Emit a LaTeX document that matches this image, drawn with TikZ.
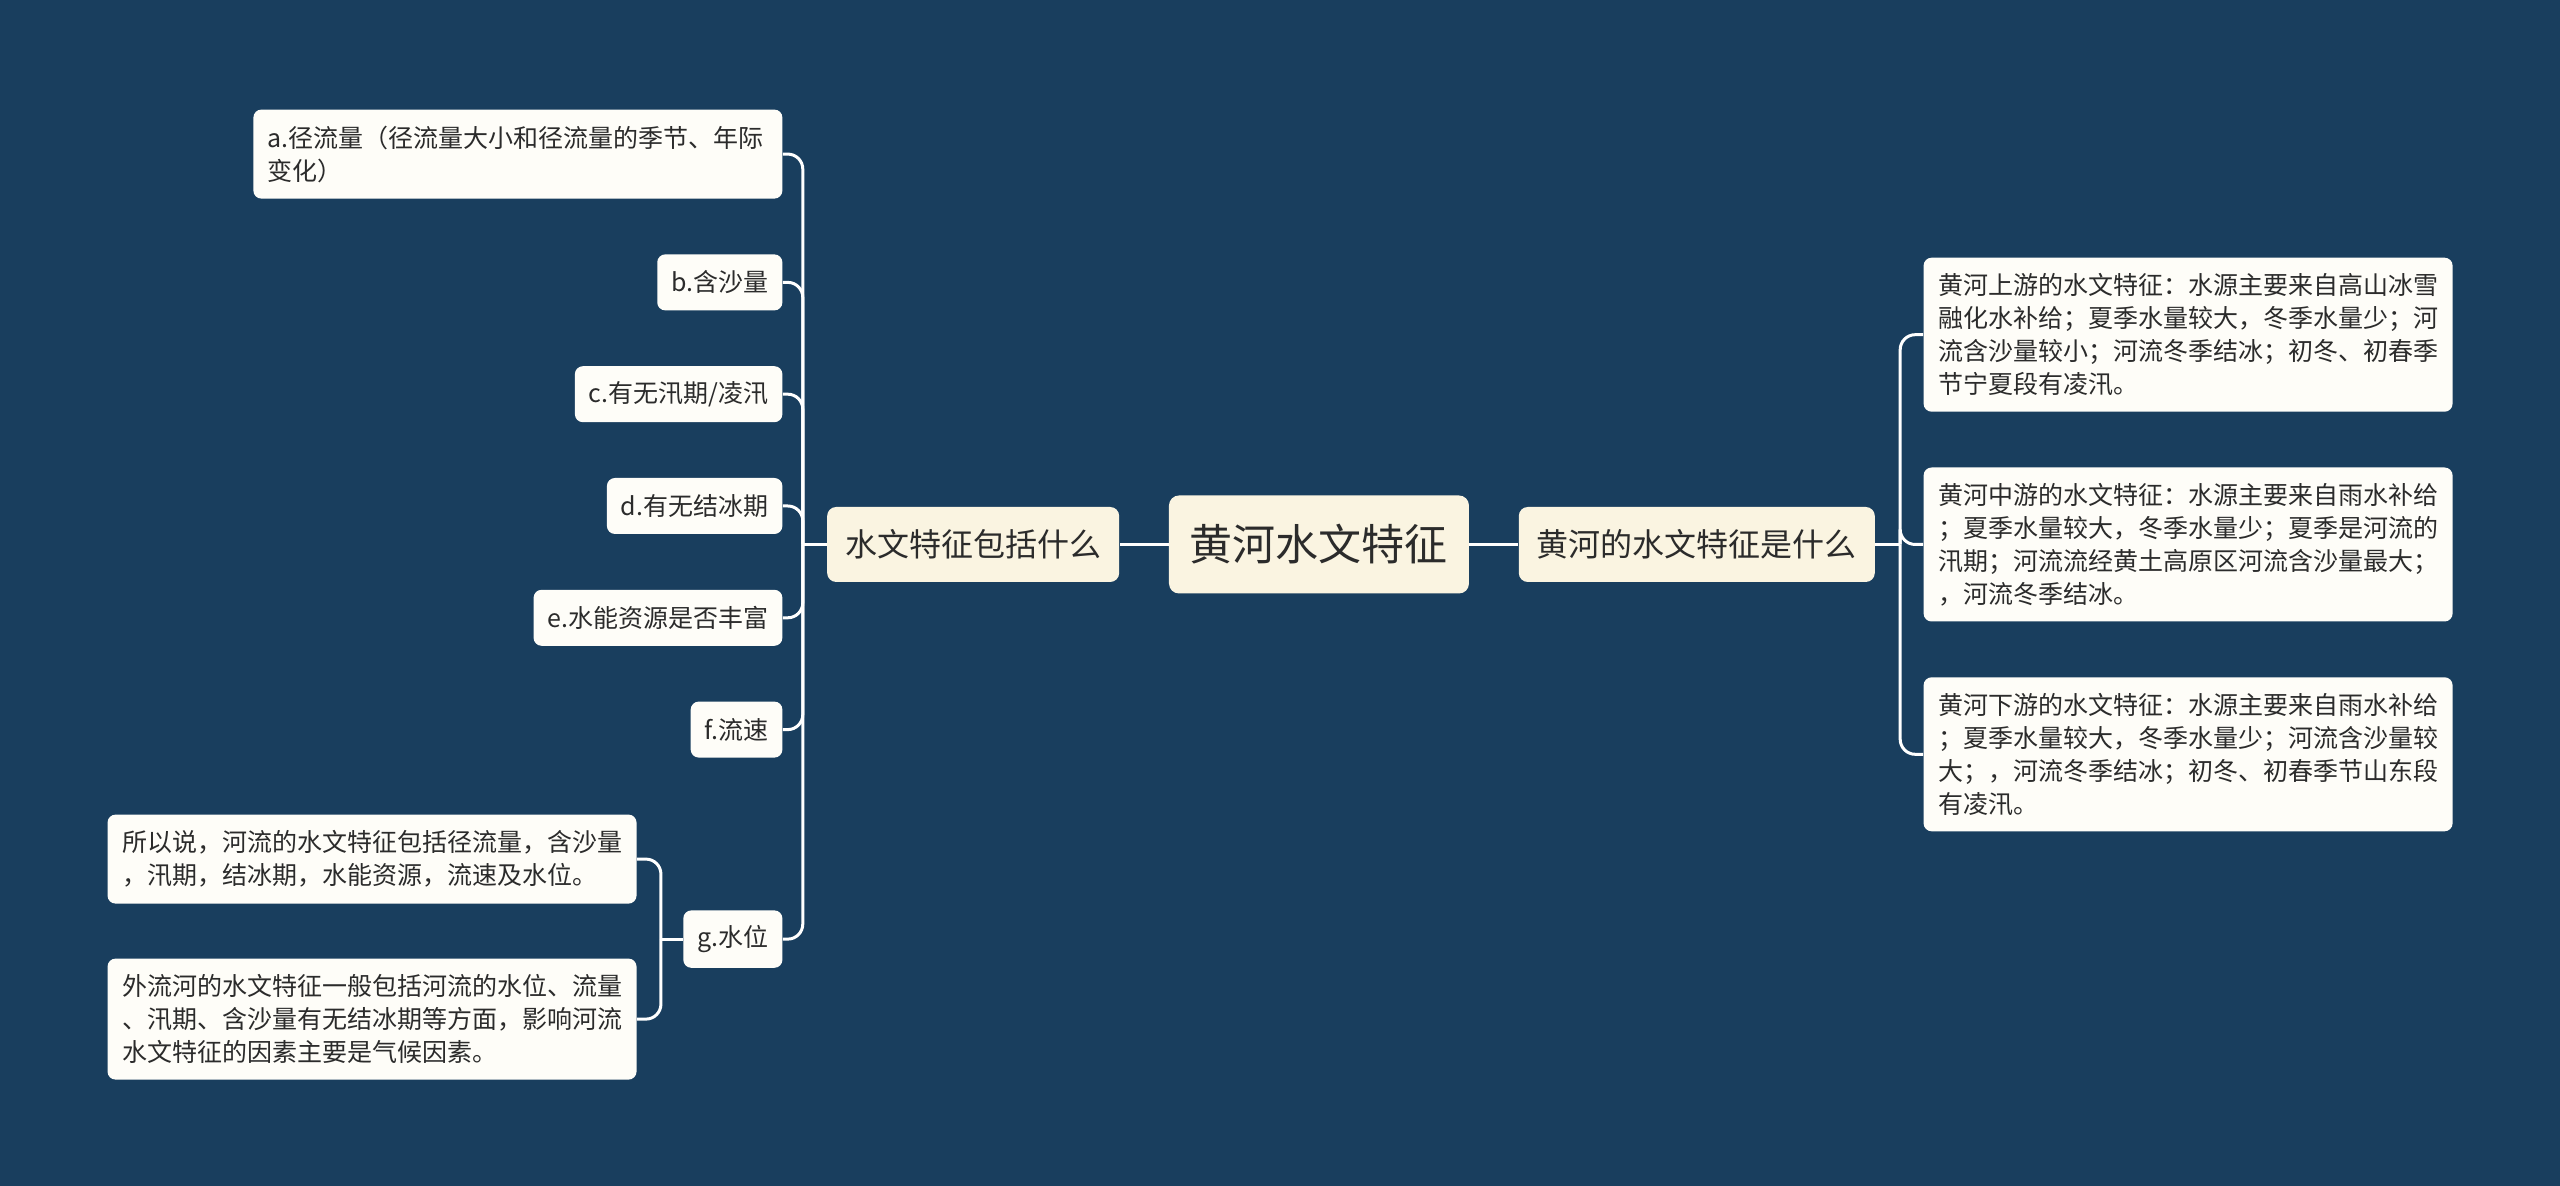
\documentclass[tikz,border=0pt]{standalone}
\usepackage{fontspec}
\usepackage{xcolor}
\usepackage{tikz}
\usetikzlibrary{positioning}

\newfontfamily\cjkfont{Noto Sans CJK SC}
\definecolor{bgblue}{HTML}{193E5E}
\definecolor{rootfill}{HTML}{FAF4E1}
\definecolor{leaffill}{HTML}{FEFDF8}
\definecolor{inkgray}{HTML}{2B2B2B}

\begin{document}
\begin{tikzpicture}[
  font=\cjkfont, text=inkgray,
  root/.style={rectangle, fill=rootfill, rounded corners=5pt, minimum height=49pt, inner xsep=10.5pt, font=\cjkfont\fontsize{21.5pt}{26pt}\selectfont},
  topic/.style={rectangle, fill=rootfill, rounded corners=4.5pt, minimum height=37.5pt, inner xsep=9pt, font=\cjkfont\fontsize{16pt}{20pt}\selectfont},
  leaf/.style={rectangle, fill=leaffill, rounded corners=4pt, minimum height=28pt, inner xsep=7pt, inner ysep=7.5pt, font=\cjkfont\fontsize{12.5pt}{16.5pt}\selectfont},
  wideleaf/.style={leaf, text width=250pt, inner xsep=7.25pt, align=left},
  conn/.style={draw=white, line width=1.5pt, rounded corners=7.5pt}
]
  \fill[bgblue] (-659.5pt,272.25pt) rectangle (620.5pt,-320.75pt);

  \node[root] (root) at (0,0) {黄河水文特征};
  \node[topic, left=24.5pt of root] (lq) {水文特征包括什么};
  \node[topic, right=24.5pt of root] (rq) {黄河的水文特征是什么};
  \draw[conn] (root) -- (lq);
  \draw[conn] (root) -- (rq);

  % left side
  \node[leaf, left=22pt of lq, yshift=19.25pt] (d) {d.有无结冰期};
  \node[leaf, above=27.5pt of d.north east, anchor=south east] (c) {c.有无汛期/凌汛};
  \node[leaf, above=27.5pt of c.north east, anchor=south east] (b) {b.含沙量};
  \node[wideleaf, minimum height=44.5pt, above=27.5pt of b.north east, anchor=south east] (a) {a.径流量（径流量大小和径流量的季节、年际\\变化）};
  \node[leaf, below=27.5pt of d.south east, anchor=north east] (e) {e.水能资源是否丰富};
  \node[leaf, below=27.5pt of e.south east, anchor=north east] (f) {f.流速};
  \node[leaf, below=76pt of f.south east, anchor=north east] (g) {g.水位};
  \coordinate[left=12pt of lq] (lj);
  \draw[conn] (lq) -- (lj);
  \foreach \n in {a,b,c,d,e,f,g}
    \draw[conn] (lj) |- (\n);

  \node[wideleaf, minimum height=44.5pt, left=23pt of g, yshift=40pt] (g1) {所以说，河流的水文特征包括径流量，含沙量\\，汛期，结冰期，水能资源，流速及水位。};
  \node[wideleaf, minimum height=60.5pt, left=23pt of g, yshift=-40pt] (g2) {外流河的水文特征一般包括河流的水位、流量\\、汛期、含沙量有无结冰期等方面，影响河流\\水文特征的因素主要是气候因素。};
  \coordinate[left=11pt of g] (gj);
  \draw[conn] (g) -- (gj);
  \draw[conn] (gj) |- (g1);
  \draw[conn] (gj) |- (g2);

  % right side
  \node[wideleaf, minimum height=77pt, right=24pt of rq] (rl2) {黄河中游的水文特征：水源主要来自雨水补给\\；夏季水量较大，冬季水量少；夏季是河流的\\汛期；河流流经黄土高原区河流含沙量最大；\\，河流冬季结冰。};
  \node[wideleaf, minimum height=77pt, above=27.5pt of rl2] (rl1) {黄河上游的水文特征：水源主要来自高山冰雪\\融化水补给；夏季水量较大，冬季水量少；河\\流含沙量较小；河流冬季结冰；初冬、初春季\\节宁夏段有凌汛。};
  \node[wideleaf, minimum height=77pt, below=27.5pt of rl2] (rl3) {黄河下游的水文特征：水源主要来自雨水补给\\；夏季水量较大，冬季水量少；河流含沙量较\\大；，河流冬季结冰；初冬、初春季节山东段\\有凌汛。};
  \coordinate[right=12.5pt of rq] (rj);
  \draw[conn] (rq) -- (rj);
  \foreach \n in {rl1,rl2,rl3}
    \draw[conn] (rj) |- (\n);
\end{tikzpicture}
\end{document}
